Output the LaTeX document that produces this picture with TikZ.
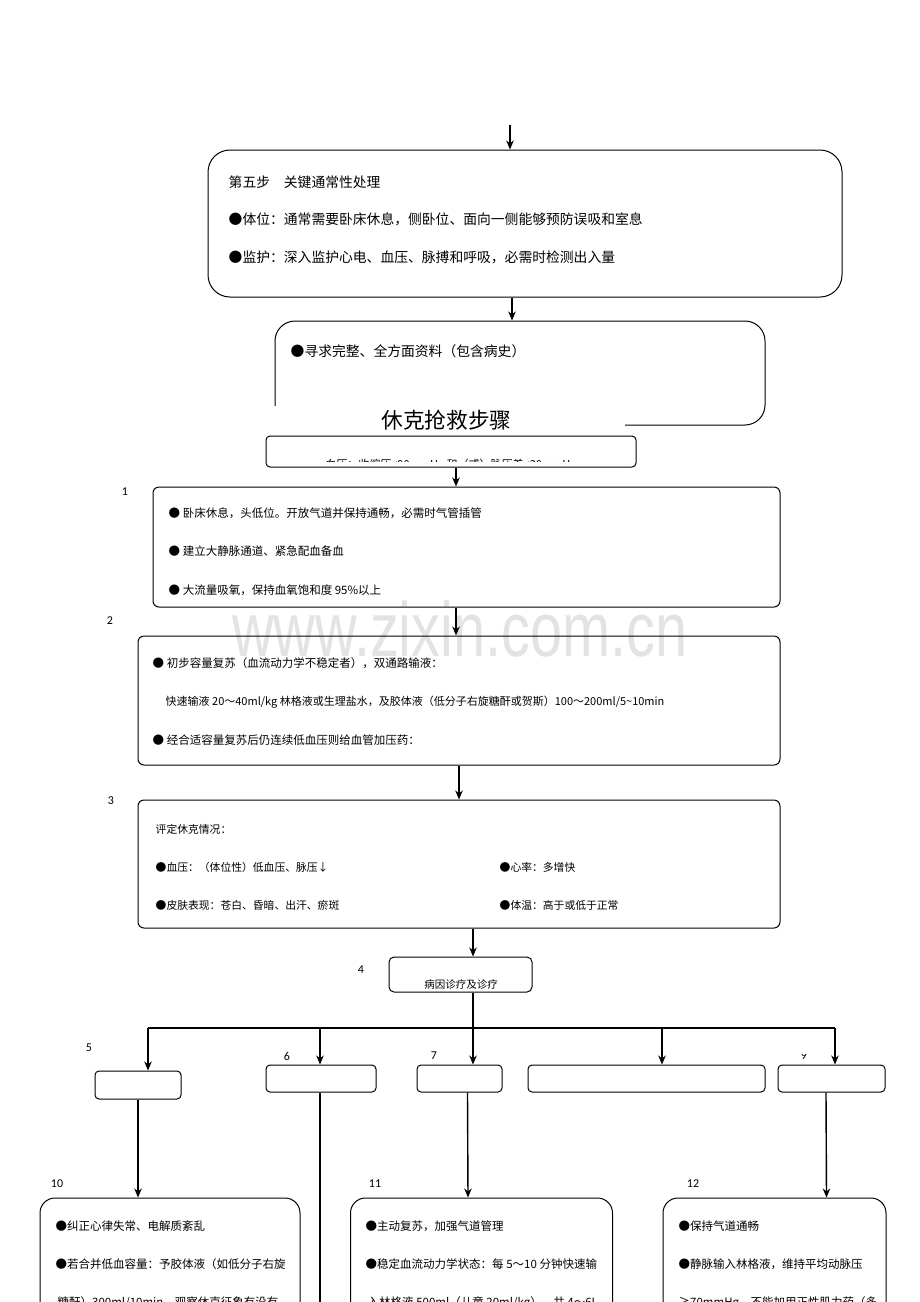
\documentclass[tikz,border=0pt]{standalone}
\usepackage{fontspec}
\setmainfont{Noto Sans CJK SC}
\newfontfamily\numfont{Carlito}
\newfontfamily\markfont{Liberation Sans}
\usetikzlibrary{arrows.meta, calc, positioning}

\newcommand{\fsBig}{\fontsize{13.8pt}{16pt}\selectfont}
\newcommand{\fsMid}{\fontsize{11.5pt}{14pt}\selectfont}
\newcommand{\fsSmall}{\fontsize{10.8pt}{13pt}\selectfont}

\begin{document}
\begin{tikzpicture}[x=1pt, y=-1pt, ->, >={Stealth[length=9pt,width=7.5pt]}, line width=1.4pt]
\tikzstyle{box}=[draw=black, line width=1pt, inner sep=0pt, rounded corners=6pt]
\tikzstyle{row}=[anchor=base west, inner sep=0pt]
\tikzstyle{num}=[inner sep=0pt, font=\numfont\fontsize{12pt}{14pt}\selectfont]

\useasboundingbox (0,0) rectangle (920,1302);
\clip (0,0) rectangle (920,1302);

% arrow columns
\coordinate (k0) at (510,125);
\coordinate (k1) at (456,0);
\coordinate (k2) at (459,0);
\coordinate (k3) at (473,0);
\coordinate (k5) at (148,0);
\coordinate (k6) at (320,0);
\coordinate (k8) at (662,0);
\coordinate (k9) at (835,0);
\coordinate (j) at (0,1028);
\coordinate (bot) at (0,1302);

% watermark
\node[inner sep=0pt, anchor=base, text=black!11] (wm) at (460,656)
  {\markfont\fontsize{77pt}{80pt}\selectfont\scalebox{0.75}[1]{www.zixin.com.cn}};

% step five
\node[box, rounded corners=22pt, minimum width=634pt, minimum height=147pt] (s5) at (525,223.5) {};
\node[row, font=\fsBig] (s5a) at (228,187) {第五步　关键通常性处理};
\node[row, font=\fsBig] (s5b) at (228,224) {●体位：通常需要卧床休息，侧卧位、面向一侧能够预防误吸和室息};
\node[row, font=\fsBig] (s5c) at (228,262) {●监护：深入监护心电、血压、脉搏和呼吸，必需时检测出入量};

\node[box, rounded corners=20pt, minimum width=490pt, minimum height=104pt] (info) at (520,373) {};
\node[row, font=\fsBig] (infoa) at (290,356) {●寻求完整、全方面资料（包含病史）};

\draw (k0) -- (k0 |- s5.north);
\draw ($(s5.south)+(-13,0)$) -- ($(info.north)+(-8,0)$);

% title over the box
\node[fill=white, inner sep=0pt, minimum width=357pt, minimum height=29pt,
      font=\fontsize{21.7pt}{24pt}\selectfont] (title) at (446.5,420) {休克抢救步骤};

\node[box, rounded corners=4pt, minimum width=370pt, minimum height=31pt] (bp) at (451,451.5) {};
\begin{scope}
  \clip (266,436) rectangle (636,461.5);
  \node[inner sep=0pt, anchor=base, font=\fontsize{11pt}{13pt}\selectfont] (bpt) at (451,468)
    {血压：收缩压<90mmHg 和（或）脉压差<30mmHg};
\end{scope}

% 1
\node[num] (n1) at (125,492) {1};
\node[box, minimum width=627pt, minimum height=120pt] (b1) at (466.5,547) {};
\node[row, font=\fsMid] (b1a) at (168,517.4) {● 卧床休息，头低位。开放气道并保持通畅，必需时气管插管};
\node[row, font=\fsMid] (b1b) at (168,555.4) {● 建立大静脉通道、紧急配血备血};
\node[row, font=\fsMid] (b1c) at (168,594.4) {● 大流量吸氧，保持血氧饱和度 95\%以上};
\draw (bp.south -| k1) -- (b1.north -| k1);

% 2
\node[num] (n2) at (110,621) {2};
\node[box, minimum width=642pt, minimum height=129pt] (b2) at (459,700.5) {};
\node[row, font=\fsMid] (b2a) at (152,667.4) {● 初步容量复苏（血流动力学不稳定者），双通路输液：};
\node[row, font=\fontsize{11pt}{13pt}\selectfont] (b2b) at (165,705.2) {快速输液 20～40ml/kg 林格液或生理盐水，及胶体液（低分子右旋糖酐或贺斯）100～200ml/5\textasciitilde10min};
\node[row, font=\fsMid] (b2c) at (152,744.4) {● 经合适容量复苏后仍连续低血压则给血管加压药：};
\draw (b1.south -| k1) -- (b2.north -| k1);

% 3
\node[num] (n3) at (111,801) {3};
\node[box, minimum width=642pt, minimum height=128pt] (b3) at (459,864) {};
\node[row, font=\fsSmall] (b3a) at (155,833) {评定休克情况：};
\node[row, font=\fsSmall] (b3b) at (155,871) {●血压：（体位性）低血压、脉压↓};
\node[row, font=\fsSmall] (b3c) at (499,871) {●心率：多增快};
\node[row, font=\fsSmall] (b3d) at (155,909) {●皮肤表现：苍白、昏暗、出汗、瘀斑};
\node[row, font=\fsSmall] (b3e) at (499,909) {●体温：高于或低于正常};
\draw (b2.south -| k2) -- (b3.north -| k2);

% 4
\node[num] (n4) at (361,970) {4};
\node[box, rounded corners=5pt, minimum width=143pt, minimum height=35pt] (b4) at (460.5,974.5) {};
\node[inner sep=0pt, anchor=base, font=\fontsize{10.5pt}{12pt}\selectfont] (b4t) at (461,988) {病因诊疗及诊疗};
\draw (b3.south -| k3) -- (b4.north -| k3);

% 5 -- 9
\tikzstyle{small}=[box, rounded corners=4pt, minimum height=27pt]
\node[num] (n5) at (89,1048) {5};
\node[num] (n6) at (287,1056) {6};
\node[num] (n7) at (434,1056) {7};
\begin{scope}
  \clip (795,1054.5) rectangle (815,1062);
  \node[num] (n9) at (804,1056) {9};
\end{scope}
\node[small, minimum width=86pt, minimum height=28pt] (b5) at (138,1085) {};
\node[small, minimum width=110pt] (b6) at (321,1078.5) {};
\node[small, minimum width=85pt] (b7) at (459.5,1078.5) {};
\node[small, minimum width=237pt] (b8) at (646.5,1078.5) {};
\node[small, minimum width=107pt] (b9) at (831.5,1078.5) {};

\draw (b4.south -| k3) -- (b7.north -| k3);
\draw[-] (k5 |- j) -- (k9 |- j);
\draw (k5 |- j) -- (b5.north -| k5);
\draw (k6 |- j) -- (b6.north -| k6);
\draw (k8 |- j) -- (b8.north -| k8);
\draw (k9 |- j) -- (b9.north -| k9);

% 10 -- 12
\tikzstyle{tall}=[box, rounded corners=15pt, minimum height=142pt]
\node[num] (n10) at (57,1184) {10};
\node[num] (n11) at (375,1184) {11};
\node[num] (n12) at (693,1184) {12};
\node[tall, minimum width=260pt] (b10) at (170,1269) {};
\node[tall, minimum width=262pt] (b11) at (481.5,1269) {};
\node[tall, minimum width=223pt] (b12) at (774.5,1269) {};

\draw (b5.south) -- (b5.south |- b10.north);
\draw[-] (b6.south -| k6) -- (k6 |- bot);
\draw ($(b7.south)+(8,0)$) -- ($(b11.north)+(-13.5,0)$);
\draw ($(b9.south)+(-5.5,0)$) -- ($(b12.north)+(52,0)$);

\node[row, font=\fsMid] (b10a) at (55,1230.4) {●纠正心律失常、电解质紊乱};
\node[row, font=\fsMid] (b10b) at (55,1268.4) {●若合并低血容量：予胶体液（如低分子右旋};
\node[row, font=\fsMid] (b10c) at (57,1306.4) {糖酐）300ml/10min，观察休克征象有没有};
\node[row, font=\fsMid] (b11a) at (365,1230.4) {●主动复苏，加强气道管理};
\node[row, font=\fsMid] (b11b) at (365,1268.4) {●稳定血流动力学状态：每 5～10 分钟快速输};
\node[row, font=\fsMid] (b11c) at (367,1306.4) {入林格液 500ml（儿童 20ml/kg），共 4～6L};
\node[row, font=\fsMid] (b12a) at (678,1230.4) {●保持气道通畅};
\node[row, font=\fsMid] (b12b) at (678,1268.4) {●静脉输入林格液，维持平均动脉压};
\node[row, font=\fsMid] (b12c) at (678,1306.4) {≥70mmHg，不能加用正性肌力药（多};

\end{tikzpicture}
\end{document}
